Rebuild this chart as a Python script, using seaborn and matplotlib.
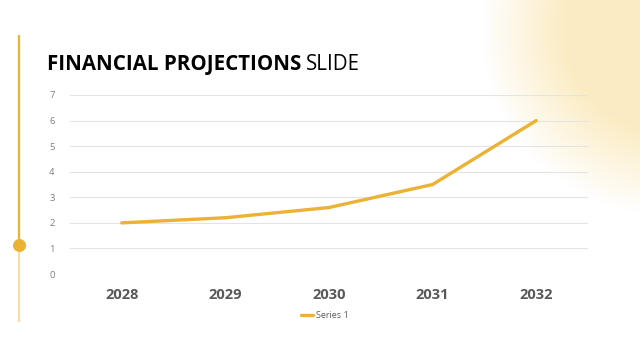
import numpy as np
import pandas as pd
import matplotlib.pyplot as plt
import seaborn as sns

# chart data
years = ["2028", "2029", "2030", "2031", "2032"]
series_1 = [2.0, 2.2, 2.6, 3.5, 6.0]

df = pd.DataFrame({"year": years, "value": series_1})

sns.set_style("white")
plt.rcParams['font.family'] = ['Open Sans', 'DejaVu Sans']

gold = "#EBB233"
fig = plt.figure(figsize=(6.4, 3.6), dpi=100)

# background decorations (pixel coordinates)
bg = fig.add_axes([0, 0, 1, 1], zorder=0)
bg.set_xlim(0, 640)
bg.set_ylim(360, 0)
bg.axis("off")

# soft sun glow in the top right corner
xx, yy = np.meshgrid(np.arange(0, 640), np.arange(0, 360))
d = np.hypot(xx - 665, yy - 30)
alpha = np.clip((185 - d) / 85, 0, 1) * 0.72
glow = np.zeros((360, 640, 4))
glow[..., 0] = 250 / 255
glow[..., 1] = 228 / 255
glow[..., 2] = 170 / 255
glow[..., 3] = alpha
bg.imshow(glow, extent=(0, 640, 360, 0), aspect="auto")

# vertical timeline with a dot
bg.plot([19, 19], [35, 245], color=gold, lw=1.6, solid_capstyle="butt")
bg.plot([19, 19], [245, 322], color="#F7DFA3", lw=1.6, solid_capstyle="butt")
bg.scatter([19], [245], s=70, color=gold, zorder=3)

# title: bold part, then regular part placed right after it (shared baseline)
title_y = 1 - 70 / 360
t1 = fig.text(47 / 640, title_y, "FINANCIAL PROJECTIONS", fontsize=14.8,
              fontweight="bold", color="black", va="baseline", ha="left")
fig.canvas.draw()
bb = t1.get_window_extent()
fig.text((bb.x1 + 5) / 640, title_y, "SLIDE", fontsize=14.8,
         color="black", va="baseline", ha="left")

# main chart
ax = fig.add_axes([70 / 640, 86 / 360, 518 / 640, 179 / 360], zorder=1)
ax.patch.set_alpha(0)
sns.lineplot(data=df, x="year", y="value", ax=ax, color=gold, lw=2.4,
             label="Series 1", sort=False)

ax.set_xlim(-0.5, 4.5)
ax.set_ylim(0, 7)
ax.set_yticks(range(0, 8))
ax.yaxis.grid(True, color="#E4E4E4", lw=0.8)
ax.xaxis.grid(False)
for s in ax.spines.values():
    s.set_visible(False)
ax.set_xlabel("")
ax.set_ylabel("")
ax.tick_params(axis="y", labelsize=6.8, labelcolor="#7F7F7F", length=0, pad=11)
ax.tick_params(axis="x", labelsize=10.5, labelcolor="#595959", length=0, pad=10)
for t in ax.get_xticklabels():
    t.set_fontweight("bold")

ax.legend(loc="center", bbox_to_anchor=(325 / 640, 1 - 316 / 360),
          bbox_transform=fig.transFigure, frameon=False, fontsize=6.5,
          handlelength=1.3, handletextpad=0.3, labelcolor="#595959")

plt.savefig("out.png", dpi=100)
